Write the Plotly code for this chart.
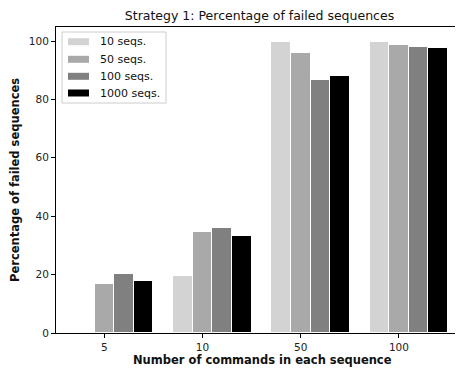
import plotly.graph_objects as go

categories = ["5", "10", "50", "100"]
series_names = ["10 seqs.", "50 seqs.", "100 seqs.", "1000 seqs."]
vals_10 = [0.0, 19.5, 99.7, 99.7]
vals_50 = [16.7, 34.6, 95.9, 98.5]
vals_100 = [20.1, 35.8, 86.6, 97.8]
vals_1000 = [17.8, 33.2, 88.0, 97.7]
colors = ["#d3d3d3", "#a9a9a9", "#808080", "#000000"]
y_ticks = [0, 20, 40, 60, 80, 100]

series = [vals_10, vals_50, vals_100, vals_1000]
width = 0.2
group_x = list(range(len(categories)))

fig = go.Figure()
for j, (name, vals, col) in enumerate(zip(series_names, series, colors)):
    fig.add_trace(go.Bar(
        x=[g + (j - 1) * width for g in group_x],
        y=vals,
        width=width,
        name=name,
        showlegend=False,
        marker=dict(color=col, line=dict(color="white", width=1)),
    ))

font = "DejaVu Sans, Arial, sans-serif"
OFF = 8  # page body margin
W, H = 463 - OFF, 368 - OFF
ml, mr, mt, mb = 56 - OFF, 0, 27 - OFF, 35
ph = H - mt - mb
pw = W - ml - mr


def px(sx):
    return (sx - 56) / pw


def py(sy):
    return (333 - sy) / ph


# legend drawn in the matplotlib style (wide patches)
shapes = [dict(type="rect", xref="paper", yref="paper",
               x0=px(62), x1=px(166), y0=py(103), y1=py(32),
               fillcolor="rgba(255,255,255,0.8)",
               line=dict(color="#cccccc", width=1))]
annotations = []
row_y = [41.7, 59.3, 76.3, 93.0]
for name, col, ry in zip(series_names, colors, row_y):
    shapes.append(dict(type="rect", xref="paper", yref="paper",
                       x0=px(68), x1=px(89), y0=py(ry + 3.5), y1=py(ry - 3.5),
                       fillcolor=col, line=dict(width=0)))
    annotations.append(dict(text=name, xref="paper", yref="paper",
                            x=px(98), y=py(ry), xanchor="left", yanchor="middle",
                            showarrow=False,
                            font=dict(size=11, color="#111111")))

annotations += [
    dict(text="<b>Number of commands in each sequence</b>",
         xref="paper", yref="paper", x=px(262), y=py(360),
         xanchor="center", yanchor="middle", showarrow=False,
         font=dict(size=11.5, color="#111111")),
    dict(text="<b>Percentage of failed sequences</b>",
         xref="paper", yref="paper", x=px(15), y=py(180),
         xanchor="center", yanchor="middle", showarrow=False, textangle=-90,
         font=dict(size=11.5, color="#111111")),
]

fig.update_layout(
    width=W, height=H,
    margin=dict(l=ml, r=mr, t=mt, b=mb, autoexpand=False),
    plot_bgcolor="white", paper_bgcolor="white",
    font=dict(family=font, size=11, color="#222222"),
    bargap=0, barmode="overlay",
    title=dict(text="Strategy 1: Percentage of failed sequences",
               x=0.5, xref="paper", y=1 - (15.5 - OFF) / H, yref="container",
               yanchor="middle", xanchor="center",
               font=dict(size=12.5, color="#111111")),
    showlegend=False,
    xaxis=dict(
        range=[-0.492, 3.652], automargin=False,
        tickmode="array", tickvals=group_x, ticktext=categories,
        showgrid=False, zeroline=False,
        showline=True, linecolor="black", linewidth=1, mirror=True,
        ticks="outside", ticklen=4, tickcolor="black",
        tickfont=dict(size=10.5, color="#222222"),
    ),
    yaxis=dict(
        range=[0, 104.8], automargin=False,
        tickmode="array", tickvals=y_ticks,
        showgrid=False, zeroline=False,
        showline=True, linecolor="black", linewidth=1, mirror=True,
        ticks="outside", ticklen=4, tickcolor="black",
        tickfont=dict(size=10.5, color="#222222"),
    ),
    shapes=shapes,
    annotations=annotations,
)

fig.write_html("out.html")
